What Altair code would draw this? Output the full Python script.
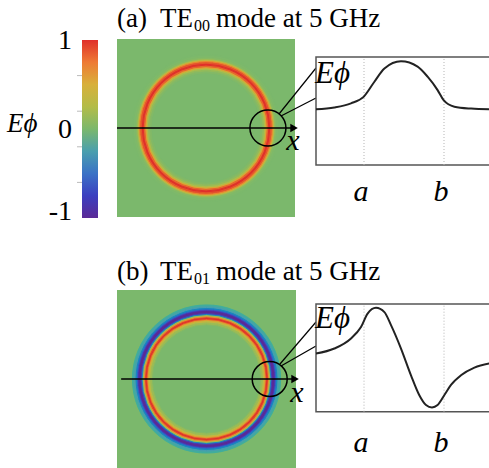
import altair as alt
import pandas as pd

# ---------------- data ----------------
# colour scale of E_phi (-1 .. 1)
color_stops = [-1, -0.75, -0.5, -0.25, 0, 0.25, 0.5, 0.75, 1]
color_hex = ["#5b2a96", "#3b3fc0", "#3a72c6", "#4a9fae", "#7bb86c",
             "#b3bc48", "#d8b03a", "#ee7a34", "#e02f2a"]
cbar_ticks = [1, 0, -1]
cbar_minor = [0.6, 0.2, -0.2, -0.6]

# radial profile of E_phi across the ring (r in mm), mode (a) TE00
r_a = [11.8, 12.26, 12.675, 12.99, 13.26, 13.51, 13.925, 14.34, 14.59,
       14.84, 14.99, 15.26, 15.68, 16.15]
E_a = [0.0, 0.04, 0.125, 0.26, 0.575, 0.85, 1.0, 0.89, 0.68,
       0.40, 0.19, 0.055, 0.015, 0.0]

# mode (b) TE01
r_b = [11.8, 12.26, 12.675, 12.925, 13.09, 13.3, 13.51, 13.675, 13.925,
       14.175, 14.38, 14.55, 14.7, 14.84, 15.01, 15.175, 15.425, 15.76, 16.15]
E_b = [0.056, 0.16, 0.37, 0.61, 0.89, 1.01, 0.92, 0.65, 0.16,
       -0.40, -0.81, -1.02, -1.07, -1.02, -0.81, -0.60, -0.40, -0.24, -0.15]

edge_labels = ["a", "b"]
edge_pos = [13.0, 15.0]
plot_r = [11.8, 16.3]
plot_E = [-1.16, 1.09]
heat_half = 19.4
zoom_cx = {"a": 13.5, "b": 13.7}

SERIF = "Liberation Serif"
PHI = "E\u03d5"


def sc(domain, rng):
    return alt.Scale(domain=domain, range=rng, nice=False, zero=False)


HX = {"a": sc([-heat_half, heat_half], [117, 295]),
      "b": sc([-heat_half, heat_half], [117, 296])}
HY = {"a": sc([-heat_half, heat_half], [217, 39]),
      "b": sc([-heat_half, heat_half], [468, 290])}
PX = sc(plot_r, [316, 496])
PY = {"a": sc(plot_E, [165, 57]), "b": sc(plot_E, [411.7, 304])}
RAD = alt.Scale(type="linear", domain=[0, heat_half], range=[0, 89], zero=True, nice=False)
COL = alt.Scale(domain=color_stops, range=color_hex, clamp=True)
CBY = sc([-1, 1], [218, 40])


def bands(r, E):
    mids = [(r[i] + r[i + 1]) / 2 for i in range(len(r) - 1)]
    return pd.DataFrame({"r0": [r[0]] + mids, "r1": mids + [r[-1]], "E": E,
                         "cx": 0.0, "cy": 0.0})


def text(s, x, y, size, italic=False, align="left", baseline="alphabetic"):
    return alt.Chart(alt.Data(values=[{}])).mark_text(
        text=s, font=SERIF, fontSize=size, fontStyle="italic" if italic else "normal",
        align=align, baseline=baseline, color="black"
    ).encode(x=alt.value(x), y=alt.value(y))


def seg(x1, y1, x2, y2, color="black", w=1.2):
    return alt.Chart(alt.Data(values=[{}])).mark_rule(color=color, strokeWidth=w).encode(
        x=alt.value(x1), y=alt.value(y1), x2=alt.value(x2), y2=alt.value(y2))


layers = []

# ---------------- colour bar ----------------
grad = alt.Gradient(
    gradient="linear",
    stops=[alt.GradientStop(color=c, offset=(s + 1) / 2) for s, c in zip(color_stops, color_hex)],
    x1=0, x2=0, y1=1, y2=0)
layers.append(
    alt.Chart(pd.DataFrame({"lo": [-1], "hi": [1]})).mark_rect(fill=grad).encode(
        x=alt.value(82), x2=alt.value(98),
        y=alt.Y("lo:Q", scale=CBY, axis=None), y2="hi:Q"))
layers.append(
    alt.Chart(pd.DataFrame({"v": cbar_minor})).mark_rule(color="#bbbbbb", strokeWidth=1).encode(
        x=alt.value(77), x2=alt.value(82), y=alt.Y("v:Q", scale=CBY, axis=None)))
tick_df = pd.DataFrame({"v": cbar_ticks, "t": [str(v) for v in cbar_ticks]})
layers.append(
    alt.Chart(tick_df).transform_filter("datum.v >= 0").mark_text(
        font=SERIF, fontSize=28, align="right", baseline="middle", dy=1, color="black").encode(
        x=alt.value(72), y=alt.Y("v:Q", scale=CBY, axis=None), text="t:N"))
layers.append(
    alt.Chart(tick_df).transform_filter("datum.v < 0").mark_text(
        font=SERIF, fontSize=28, align="right", baseline="alphabetic", dy=2, color="black").encode(
        x=alt.value(72), y=alt.Y("v:Q", scale=CBY, axis=None), text="t:N"))
layers.append(text(PHI, 7, 132, 27, italic=True))

# ---------------- panels ----------------
panels = {"a": (r_a, E_a, "00", 27, 31, -heat_half, 192, 83, 150, 293),
          "b": (r_b, E_b, "01", 280, 284, -18.5, 443, 328, 402, 297)}
conn = {"a": [(279, 114, 316, 68), (281, 116, 316, 98)],
        "b": [(280, 364, 316, 322), (281, 366, 316, 346)]}
csize = {"a": 1296, "b": 1225}

for k, (r, E, sub, tb, sb, x_start, lab_y, ephi_y, xl_y, xl_x) in panels.items():
    hx, hy = HX[k], HY[k]
    # heat map background (field = 0)
    layers.append(
        alt.Chart(pd.DataFrame({"x0": [-heat_half], "x1": [heat_half], "E": [0.0]})).mark_rect().encode(
            x=alt.X("x0:Q", scale=hx, axis=None), x2="x1:Q",
            y=alt.Y("x0:Q", scale=hy, axis=None), y2="x1:Q",
            color=alt.Color("E:Q", scale=COL, legend=None)))
    # ring of the field
    layers.append(
        alt.Chart(bands(r, E)).mark_arc(theta=0, theta2=6.2832, strokeWidth=1.0).encode(
            x=alt.X("cx:Q", scale=hx, axis=None), y=alt.Y("cy:Q", scale=hy, axis=None),
            radius=alt.Radius("r0:Q", scale=RAD), radius2="r1:Q",
            color=alt.Color("E:Q", scale=COL, legend=None),
            stroke=alt.Stroke("E:Q", scale=COL, legend=None)))
    # x axis arrow
    layers.append(
        alt.Chart(pd.DataFrame({"x0": [x_start], "x1": [18.8], "y": [0.0]})).mark_rule(
            color="black", strokeWidth=1.5).encode(
            x=alt.X("x0:Q", scale=hx, axis=None), x2="x1:Q",
            y=alt.Y("y:Q", scale=hy, axis=None)))
    layers.append(
        alt.Chart(pd.DataFrame({"x": [19.2], "y": [0.0]})).mark_point(
            shape="triangle-right", filled=True, color="black", size=75, opacity=1).encode(
            x=alt.X("x:Q", scale=hx, axis=None), y=alt.Y("y:Q", scale=hy, axis=None)))
    # zoom circle
    layers.append(
        alt.Chart(pd.DataFrame({"x": [zoom_cx[k]], "y": [0.0]})).mark_point(
            shape="circle", filled=False, color="black", strokeWidth=1.5, size=csize[k], opacity=1).encode(
            x=alt.X("x:Q", scale=hx, axis=None), y=alt.Y("y:Q", scale=hy, axis=None)))
    layers.append(text("x", xl_x, xl_y, 30, italic=True, align="center"))
    for c in conn[k]:
        layers.append(seg(*c))
    # line plot box
    layers.append(
        alt.Chart(pd.DataFrame({"x0": [plot_r[0]], "x1": [plot_r[1]],
                                "y0": [plot_E[0]], "y1": [plot_E[1]]})).mark_rect(
            fill="white", stroke="#555555", strokeWidth=1.5).encode(
            x=alt.X("x0:Q", scale=PX, axis=None), x2="x1:Q",
            y=alt.Y("y0:Q", scale=PY[k], axis=None), y2="y1:Q"))
    layers.append(
        alt.Chart(pd.DataFrame({"x": edge_pos, "y0": [plot_E[0]] * 2, "y1": [plot_E[1]] * 2})).mark_rule(
            color="#b5b5b5", strokeWidth=1, strokeDash=[1, 2]).encode(
            x=alt.X("x:Q", scale=PX, axis=None),
            y=alt.Y("y0:Q", scale=PY[k], axis=None), y2="y1:Q"))
    layers.append(
        alt.Chart(pd.DataFrame({"r": r, "E": E})).mark_line(
            interpolate="monotone", color="#222222", strokeWidth=2).encode(
            x=alt.X("r:Q", scale=PX, axis=None), y=alt.Y("E:Q", scale=PY[k], axis=None)))
    layers.append(
        alt.Chart(pd.DataFrame({"x": edge_pos, "t": edge_labels})).mark_text(
            font=SERIF, fontSize=30, fontStyle="italic", align="center", dx=-3, color="black").encode(
            x=alt.X("x:Q", scale=PX, axis=None), y=alt.value(lab_y), text="t:N"))
    layers.append(text(PHI, 315, ephi_y, 31, italic=True))
    # title
    layers.append(text("(" + k + ")", 117, tb, 27))
    layers.append(text("TE", 193, tb, 27, align="right"))
    layers.append(text(sub, 194, sb, 16))
    layers.append(text("mode at 5 GHz", 216, tb, 27))

chart = alt.layer(*layers).resolve_scale(
    x="independent", y="independent"
).properties(
    width=489, height=468, padding=0, background="white",
    autosize=alt.AutoSizeParams(type="none")
).configure_view(stroke=None)

chart.save("out.html", embed_options={"renderer": "svg", "actions": False})
